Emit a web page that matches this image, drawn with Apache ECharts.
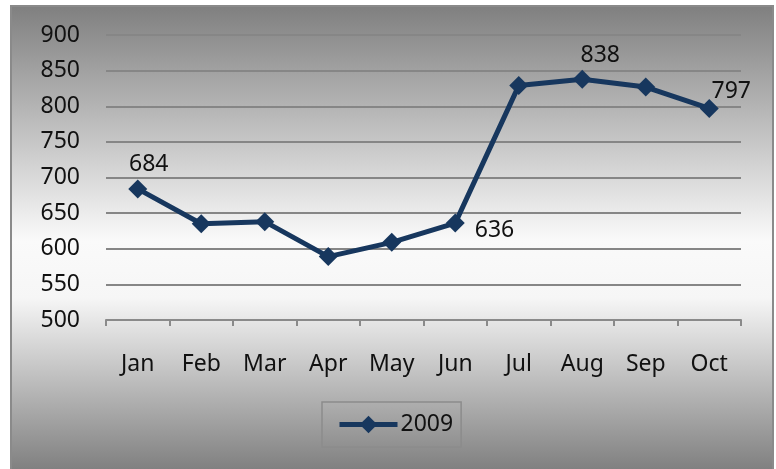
<!DOCTYPE html>
<html>
<head>
<meta charset="utf-8">
<script src="https://cdn.jsdelivr.net/npm/echarts@6/dist/echarts.min.js"></script>
<style>
html,body{margin:0;padding:0;background:#ffffff;}
#chart{width:776px;height:469px;}
</style>
</head>
<body>
<div id="chart"></div>
<script>
const categories = ['Jan','Feb','Mar','Apr','May','Jun','Jul','Aug','Sep','Oct'];
const values2009 = [684, 635, 638, 589, 609, 636, 829, 838, 827, 797];
const labelled = [true, false, false, false, false, true, false, true, false, true];
const seriesName = '2009';
const yTicks = {min: 500, max: 900, interval: 50};

const FONT = 'Noto Sans';
const labelStyles = {
  0: {position: 'top', offset: [11, 2]},
  5: {position: 'right', offset: [5, 7]},
  7: {position: 'top', offset: [18, 2]},
  9: {position: 'top', offset: [22, 9]}
};

const data = values2009.map((v, i) => {
  const item = {value: v};
  if (labelled[i]) {
    item.label = Object.assign({show: true}, labelStyles[i] || {position: 'top'});
  }
  return item;
});

const chart = echarts.init(document.getElementById('chart'), null, {renderer: 'canvas'});
chart.setOption({
  animation: false,
  textStyle: {fontFamily: FONT},
  graphic: [{
    type: 'rect',
    z: -10,
    silent: true,
    shape: {x: 11, y: 6, width: 762, height: 470},
    style: {
      fill: new echarts.graphic.LinearGradient(0, 0, 0, 1, [
        {offset: 0, color: '#7f7f7f'},
        {offset: 0.5, color: '#fafafa'},
        {offset: 0.62, color: '#f6f6f6'},
        {offset: 1, color: '#7b7b7b'}
      ]),
      stroke: '#8a8a8a',
      lineWidth: 2
    }
  }],
  grid: {left: 106, right: 35, top: 35, bottom: 149, containLabel: false},
  legend: {
    show: true,
    left: 322,
    top: 402,
    data: [seriesName],
    itemWidth: 58,
    itemHeight: 22,
    itemGap: 0,
    padding: [11, 8, 11, 15],
    borderColor: '#8c8c8c',
    borderWidth: 1.5,
    lineStyle: {width: 5, color: '#17375e'},
    itemStyle: {color: '#17375e'},
    textStyle: {fontFamily: FONT, fontSize: 23, color: '#111111', padding: [0, 0, 0, -2]}
  },
  xAxis: {
    type: 'category',
    data: categories,
    boundaryGap: true,
    axisLine: {show: true, lineStyle: {color: '#8a8a8a', width: 2}},
    axisTick: {show: true, alignWithLabel: false, length: 6, lineStyle: {color: '#8a8a8a', width: 2}},
    axisLabel: {fontFamily: FONT, fontSize: 23, color: '#111111', margin: 33},
    splitLine: {show: false}
  },
  yAxis: {
    type: 'value',
    min: yTicks.min,
    max: yTicks.max,
    interval: yTicks.interval,
    axisLine: {show: false},
    axisTick: {show: false},
    axisLabel: {fontFamily: FONT, fontSize: 23, color: '#111111', margin: 26},
    splitLine: {show: true, lineStyle: {color: '#868686', width: 2}}
  },
  series: [{
    name: seriesName,
    type: 'line',
    data: data,
    symbol: 'diamond',
    symbolSize: 19,
    itemStyle: {color: '#17375e'},
    lineStyle: {color: '#17375e', width: 5},
    label: {fontFamily: FONT, fontSize: 23, color: '#111111', distance: 5}
  }]
});
</script>
</body>
</html>
